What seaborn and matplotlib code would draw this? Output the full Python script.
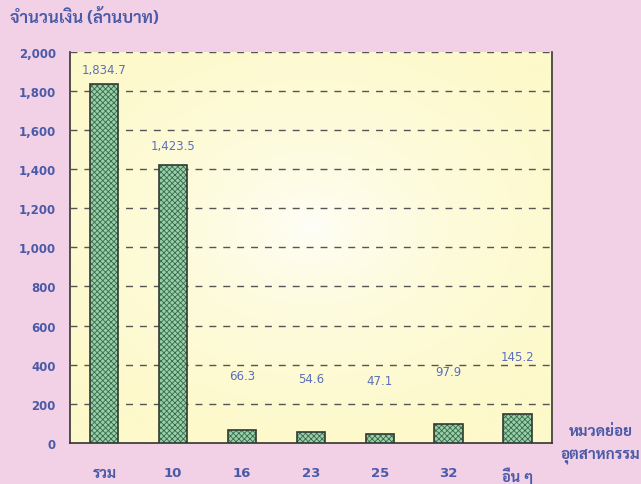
import numpy as np
import pandas as pd
import matplotlib
matplotlib.use('Agg')
import matplotlib.pyplot as plt
from matplotlib import font_manager
from matplotlib.patches import Rectangle
import seaborn as sns

# data
categories = ['รวม', '10', '16', '23', '25', '32', 'อื่น ๆ']
values = [1834.7, 1423.5, 66.3, 54.6, 47.1, 97.9, 145.2]
value_labels = ['1,834.7', '1,423.5', '66.3', '54.6', '47.1', '97.9', '145.2']
yticks = [0, 200, 400, 600, 800, 1000, 1200, 1400, 1600, 1800, 2000]

df = pd.DataFrame({'cat': categories, 'value': values})

sns.set_theme(style='white')

# thai-capable families, first one installed wins
installed = {f.name for f in font_manager.fontManager.ttflist}
thai = [n for n in ['Sarabun', 'Noto Sans Thai', 'Garuda', 'Athiti', 'Loma'] if n in installed][:1]
thai = thai + ['DejaVu Sans']
plt.rcParams['font.family'] = ['DejaVu Sans']
plt.rcParams['hatch.linewidth'] = 0.6

blue = '#4a5aa8'
pink = '#f2d1e6'

fig = plt.figure(figsize=(6.41, 4.85), dpi=100, facecolor=pink)
ax = fig.add_axes([0.109, 0.085, 0.752, 0.806])

# radial gradient background of the plot area
gx, gy = np.meshgrid(np.linspace(-1, 1, 300), np.linspace(-1, 1, 300))
r = np.clip(np.sqrt((gx * 0.9) ** 2 + (gy + 0.1) ** 2) / 1.15, 0, 1)
c0 = np.array([1.0, 1.0, 1.0])
c1 = np.array([253, 249, 202]) / 255
img = c0 + (c1 - c0) * r[..., None] ** 0.5
ax.imshow(img, extent=[-0.5, 6.5, 0, 2000], aspect='auto', zorder=0)

# hatch takes the edge colour, so fill first and outline afterwards
sns.barplot(data=df, x='cat', y='value', ax=ax, width=0.41,
            color='#9fcdab', edgecolor='#2f6e47', linewidth=0,
            hatch='xxxxxx', zorder=3, saturation=1)
for p in list(ax.patches):
    ax.add_patch(Rectangle(p.get_xy(), p.get_width(), p.get_height(),
                           fill=False, edgecolor='#2f3a32', linewidth=1.2, zorder=3.5))

label_pos = [1910, 1520, 345, 330, 320, 365, 440]
for i, t in enumerate(value_labels):
    ax.text(i, label_pos[i], t, ha='center', va='center', color='#5b6fb8',
            fontsize=8.5, zorder=4)

ax.set_xlim(-0.5, 6.5)
ax.set_ylim(0, 2000)
ax.set_yticks(yticks)
ax.set_yticklabels([f'{v:,}' for v in yticks], color=blue, fontweight='bold', fontsize=8.5)
ax.set_xticks(range(len(categories)))
ax.set_xticklabels(categories, color=blue, fontweight='bold', fontsize=9.5)
for lab in ax.get_xticklabels():
    if not lab.get_text().isdigit():
        lab.set_family(thai)
        lab.set_fontsize(10.5)
ax.set_xticks(np.arange(-0.5, 7, 1), minor=True)
ax.tick_params(axis='x', which='major', length=0, pad=17)
ax.tick_params(axis='x', which='minor', direction='inout', length=8, width=1, color='#333333')
ax.tick_params(axis='y', direction='inout', length=8, width=1, color='#333333', pad=6)
ax.yaxis.grid(True, linestyle=(0, (5, 5)), color='#555555', linewidth=1)
ax.set_axisbelow(False)
for gl in ax.get_ygridlines():
    gl.set_zorder(1)

for s in ['left', 'bottom', 'right']:
    ax.spines[s].set_visible(True)
    ax.spines[s].set_color('#333333')
    ax.spines[s].set_linewidth(1.2)
ax.spines['top'].set_visible(False)
ax.set_xlabel('')
ax.set_ylabel('')

fig.text(0.015, 0.962, 'จำนวนเงิน (ล้านบาท)', color=blue, fontweight='bold',
         fontsize=12, ha='left', va='center', family=thai)
fig.text(0.937, 0.083, 'หมวดย่อย\nอุตสาหกรรม', color=blue, fontweight='bold',
         fontsize=11, ha='center', va='center', linespacing=1.75, family=thai)

fig.savefig('out.png', dpi=100, facecolor=pink)
